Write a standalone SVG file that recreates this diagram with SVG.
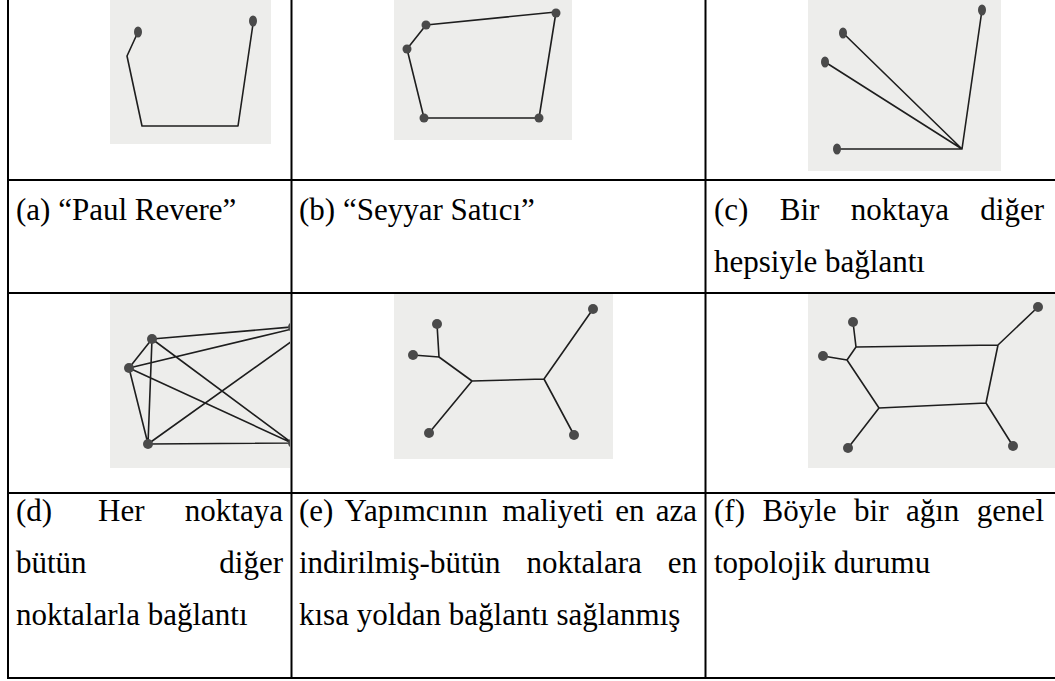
<svg xmlns="http://www.w3.org/2000/svg" width="1055" height="681" viewBox="0 0 1055 681">
<style>
.bg{fill:#ededeb}
.e{stroke:#1e1e1e;stroke-width:1.6;fill:none;stroke-linecap:round;stroke-linejoin:round}
.n{fill:#4a4a4a}
.grid{stroke:#000;stroke-width:2;fill:none}
.t{font-family:"Liberation Serif","Times New Roman",serif;font-size:31px;fill:#000}
.r{text-anchor:end}
</style>
<defs>
<clipPath id="clipD"><rect x="110" y="294" width="180" height="174"/></clipPath>
</defs>
<rect width="1055" height="681" fill="#fff"/>

<g id="backgrounds">
<rect class="bg" x="110" y="0" width="161" height="144"/>
<rect class="bg" x="394" y="0" width="178" height="140"/>
<rect class="bg" x="808" y="0" width="193" height="171"/>
<rect class="bg" x="110" y="294" width="180" height="174"/>
<rect class="bg" x="394" y="294" width="219" height="165"/>
<rect class="bg" x="808" y="294" width="247" height="174"/>
</g>

<g id="connectors">
<path class="e" d="M138,32 L127,56 L142,126 L238,126 L253,24"/>
<path class="e" d="M426,25 L556,12 L539,118 L424,118 L407,49 Z"/>
<path class="e" d="M982,10 L962,149 M843,33 L962,149 M825,62 L962,149 M837,149 L962,149"/>
<g clip-path="url(#clipD)">
<path class="e" d="M152,339 L129,368 L148,444 Z M152,339 L148,444 M152,339 L292,327 M129,368 L292,329 M148,444 L292,341 M152,339 L292,443 M129,368 L292,443 M148,444 L292,443"/>
</g>
<path class="e" d="M437,324 L439,357 M413,355 L439,357 L472,381 L429,433 M472,381 L544,379 L593,309 M544,379 L574,435"/>
<path class="e" d="M853,322 L856,347 L847,360 L823,356 M856,347 L998,345 L1038,307 M847,360 L879,408 L848,448 M879,408 L986,403 L998,345 M986,403 L1013,446"/>
</g>

<g id="nodes">
<g id="a-n1"><ellipse class="n" cx="138" cy="32" rx="4" ry="5.5"/></g>
<g id="a-n2"><ellipse class="n" cx="253" cy="21" rx="4" ry="5.5"/></g>
<g id="b-n1"><ellipse class="n" cx="426" cy="25" rx="4.5" ry="4.5"/></g>
<g id="b-n2"><ellipse class="n" cx="556" cy="13" rx="4.5" ry="4.5"/></g>
<g id="b-n3"><ellipse class="n" cx="539" cy="118" rx="4.5" ry="4.5"/></g>
<g id="b-n4"><ellipse class="n" cx="424" cy="118" rx="4.5" ry="4.5"/></g>
<g id="b-n5"><ellipse class="n" cx="407" cy="49" rx="4.5" ry="4.5"/></g>
<g id="c-n1"><ellipse class="n" cx="982" cy="10" rx="4" ry="5.5"/></g>
<g id="c-n2"><ellipse class="n" cx="843" cy="33" rx="4" ry="5.5"/></g>
<g id="c-n3"><ellipse class="n" cx="825" cy="62" rx="4" ry="5.5"/></g>
<g id="c-n4"><ellipse class="n" cx="837" cy="149" rx="4" ry="5.5"/></g>
<g id="d-n1"><ellipse class="n" cx="152" cy="339" rx="5" ry="5"/></g>
<g id="d-n2"><ellipse class="n" cx="129" cy="368" rx="5" ry="5"/></g>
<g id="d-n3"><ellipse class="n" cx="148" cy="444" rx="5" ry="5"/></g>
<g id="d-n4" clip-path="url(#clipD)"><ellipse class="n" cx="293" cy="327" rx="5" ry="5"/></g>
<g id="d-n5" clip-path="url(#clipD)"><ellipse class="n" cx="293" cy="443" rx="5" ry="5"/></g>
<g id="e-n1"><ellipse class="n" cx="437" cy="324" rx="5" ry="5"/></g>
<g id="e-n2"><ellipse class="n" cx="413" cy="355" rx="5" ry="5"/></g>
<g id="e-n3"><ellipse class="n" cx="593" cy="309" rx="5" ry="5"/></g>
<g id="e-n4"><ellipse class="n" cx="429" cy="433" rx="5" ry="5"/></g>
<g id="e-n5"><ellipse class="n" cx="574" cy="435" rx="5" ry="5"/></g>
<g id="f-n1"><ellipse class="n" cx="853" cy="322" rx="5" ry="5"/></g>
<g id="f-n2"><ellipse class="n" cx="823" cy="356" rx="5" ry="5"/></g>
<g id="f-n3"><ellipse class="n" cx="1038" cy="307" rx="5" ry="5"/></g>
<g id="f-n4"><ellipse class="n" cx="848" cy="448" rx="5" ry="5"/></g>
<g id="f-n5"><ellipse class="n" cx="1013" cy="446" rx="5" ry="5"/></g>
</g>

<g id="table">
<path class="grid" d="M8,0 V679 M291.5,0 V679 M705.5,0 V679 M8,180 H1055 M8,293 H1055 M8,493 H1055 M8,678 H1055"/>
</g>

<g id="captions">
<text class="t" x="16" y="220">(a) “Paul Revere”</text>
<text class="t" x="299" y="220">(b) “Seyyar Satıcı”</text>
<text class="t" x="714" y="220">(c)</text>
<text class="t" x="779.8" y="220">Bir</text>
<text class="t" x="850.8" y="220">noktaya</text>
<text class="t r" x="1044" y="220">diğer</text>
<text class="t" x="714" y="272">hepsiyle bağlantı</text>

<text class="t" x="16" y="521">(d)</text>
<text class="t" x="98" y="521">Her</text>
<text class="t r" x="283" y="521">noktaya</text>
<text class="t" x="16" y="573">bütün</text>
<text class="t r" x="283" y="573">diğer</text>
<text class="t" x="16" y="625">noktalarla bağlantı</text>

<text class="t" x="299" y="521">(e)</text>
<text class="t" x="344.6" y="521">Yapımcının</text>
<text class="t" x="502.3" y="521">maliyeti</text>
<text class="t" x="615.2" y="521">en</text>
<text class="t r" x="697" y="521">aza</text>
<text class="t" x="299" y="573">indirilmiş-bütün</text>
<text class="t" x="526.4" y="573">noktalara</text>
<text class="t r" x="697" y="573">en</text>
<text class="t" x="299" y="625">kısa yoldan bağlantı sağlanmış</text>

<text class="t" x="714" y="521">(f)</text>
<text class="t" x="762.5" y="521">Böyle</text>
<text class="t" x="854.1" y="521">bir</text>
<text class="t" x="906" y="521">ağın</text>
<text class="t r" x="1044" y="521">genel</text>
<text class="t" x="714" y="573">topolojik durumu</text>
</g>
</svg>
